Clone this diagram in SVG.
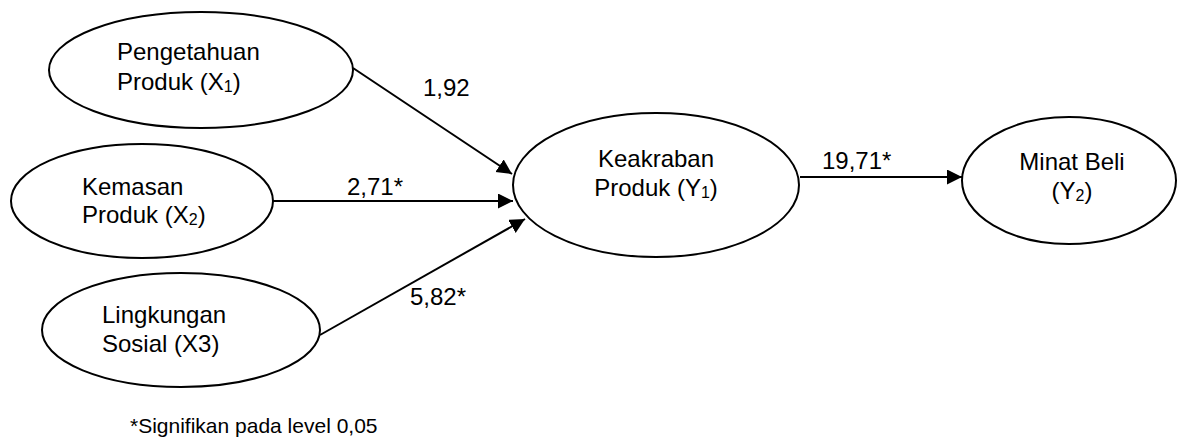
<svg xmlns="http://www.w3.org/2000/svg" width="1177" height="439" viewBox="0 0 1177 439">
  <style>
    .node ellipse { fill: #ffffff; stroke: #000000; stroke-width: 2; }
    text { font-family: "Liberation Sans", Arial, sans-serif; font-size: 24px; fill: #000000; }
    .sub { font-size: 16px; }
    .c { text-anchor: middle; }
    .edge { stroke: #000000; stroke-width: 2; fill: none; marker-end: url(#arrow); }
    .note { font-size: 21px; }
  </style>
  <defs>
    <marker id="arrow" markerUnits="userSpaceOnUse" markerWidth="16" markerHeight="16" refX="15" refY="7.5" orient="auto">
      <path d="M0,0 L15,7.5 L0,15 Z" fill="#000000"/>
    </marker>
  </defs>

  <rect width="1177" height="439" fill="#ffffff"/>

  <!-- connectors -->
  <g id="connectors">
    <line class="edge" x1="353" y1="68" x2="512" y2="174"/>
    <line class="edge" x1="273" y1="201" x2="513" y2="201"/>
    <line class="edge" x1="320" y1="335" x2="525" y2="219"/>
    <line class="edge" x1="800" y1="177" x2="962" y2="177"/>
    <text x="423" y="96">1,92</text>
    <text x="347" y="195">2,71*</text>
    <text x="410" y="305">5,82*</text>
    <text x="822" y="169">19,71*</text>
  </g>

  <g id="x1" class="node">
    <ellipse cx="201" cy="70" rx="152" ry="58"/>
    <text x="117" y="60">Pengetahuan</text>
    <text x="117" y="90">Produk (X<tspan class="sub" dy="2">1</tspan><tspan dy="-2">)</tspan></text>
  </g>

  <g id="x2" class="node">
    <ellipse cx="142" cy="201" rx="131" ry="57"/>
    <text x="82" y="195">Kemasan</text>
    <text x="82" y="223">Produk (X<tspan class="sub" dy="2">2</tspan><tspan dy="-2">)</tspan></text>
  </g>

  <g id="x3" class="node">
    <ellipse cx="181" cy="330" rx="139" ry="57"/>
    <text x="102" y="323">Lingkungan</text>
    <text x="102" y="352">Sosial (X3)</text>
  </g>

  <g id="y1" class="node">
    <ellipse cx="656" cy="185" rx="143" ry="72"/>
    <text class="c" x="656" y="167">Keakraban</text>
    <text class="c" x="656" y="196">Produk (Y<tspan class="sub" dy="2">1</tspan><tspan dy="-2">)</tspan></text>
  </g>

  <g id="y2" class="node">
    <ellipse cx="1069" cy="180.5" rx="107" ry="63.5"/>
    <text class="c" x="1072" y="170">Minat Beli</text>
    <text class="c" x="1072" y="199">(Y<tspan class="sub" dy="2">2</tspan><tspan dy="-2">)</tspan></text>
  </g>

  <text class="note" x="130" y="433">*Signifikan pada level 0,05</text>
</svg>
